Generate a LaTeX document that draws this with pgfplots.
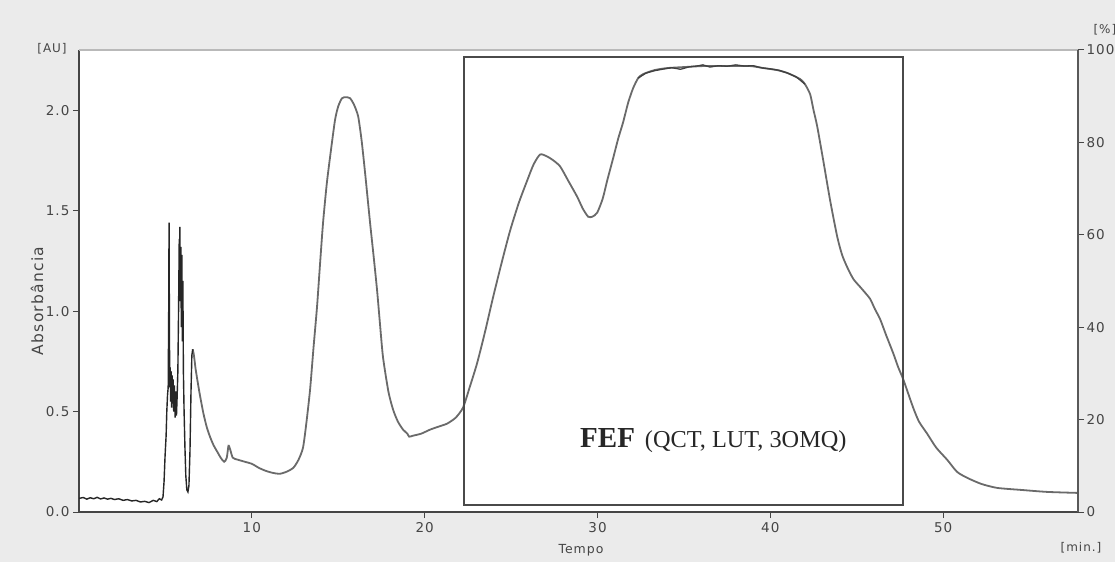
\documentclass[border=0pt]{standalone}
\usepackage{pgfplots}
\pgfplotsset{compat=1.18}
\usepackage{fontspec}
\setmainfont[LetterSpace=8]{DejaVu Sans}
\newfontfamily\timesf{Liberation Serif}
\definecolor{bgg}{HTML}{EBEBEB}
\definecolor{axc}{HTML}{454545}
\definecolor{curvec}{HTML}{6A6A6A}
\definecolor{boxc}{HTML}{4A4A4A}

\pgfplotstableread{
x y
0.00 0.068
0.25 0.072
0.45 0.064
0.65 0.071
0.85 0.066
1.05 0.073
1.25 0.065
1.45 0.070
1.65 0.064
1.85 0.068
2.05 0.062
2.30 0.066
2.55 0.058
2.80 0.062
3.05 0.055
3.30 0.058
3.55 0.050
3.80 0.053
4.05 0.047
4.30 0.058
4.50 0.052
4.65 0.066
4.78 0.060
4.86 0.075
4.92 0.15
4.98 0.28
5.04 0.38
5.08 0.50
5.12 0.58
5.16 0.62
5.19 1.00
5.21 1.44
5.23 0.95
5.25 0.62
5.28 0.72
5.30 0.55
5.33 0.70
5.36 0.52
5.39 0.68
5.42 0.54
5.45 0.66
5.48 0.50
5.52 0.63
5.56 0.47
5.60 0.60
5.64 0.48
5.68 0.58
5.72 0.70
5.76 1.00
5.80 1.36
5.82 1.15
5.84 1.42
5.86 1.05
5.89 1.32
5.92 0.92
5.95 1.28
5.98 0.85
6.01 1.15
6.04 0.70
6.08 0.50
6.13 0.32
6.18 0.18
6.24 0.11
6.30 0.10
6.36 0.13
6.42 0.30
6.48 0.60
6.53 0.78
6.58 0.81
}\noisetab

\pgfplotstableread{
x y
6.58 0.81
6.65 0.78
6.75 0.71
6.90 0.63
7.00 0.58
7.20 0.49
7.40 0.42
7.60 0.37
7.80 0.33
8.00 0.30
8.20 0.27
8.40 0.25
8.55 0.27
8.65 0.33
8.75 0.31
8.90 0.27
9.20 0.26
9.60 0.25
10.0 0.24
10.4 0.22
10.8 0.205
11.2 0.195
11.6 0.19
12.0 0.20
12.4 0.22
12.7 0.26
12.96 0.32
13.15 0.44
13.37 0.61
13.57 0.82
13.77 1.02
13.95 1.24
14.12 1.44
14.33 1.63
14.53 1.77
14.81 1.95
15.00 2.02
15.22 2.06
15.45 2.065
15.68 2.06
15.90 2.03
16.15 1.97
16.35 1.85
16.55 1.69
16.84 1.44
17.05 1.27
17.25 1.10
17.42 0.93
17.59 0.77
17.90 0.60
18.17 0.51
18.45 0.45
18.75 0.41
19.00 0.39
19.10 0.375
19.33 0.38
19.80 0.39
20.31 0.41
20.80 0.425
21.30 0.44
21.80 0.47
22.22 0.52
22.60 0.62
23.03 0.74
23.50 0.90
23.96 1.07
24.45 1.24
24.94 1.40
25.45 1.54
25.93 1.65
26.30 1.73
26.68 1.78
27.08 1.77
27.45 1.75
27.84 1.72
28.30 1.65
28.82 1.57
29.15 1.51
29.46 1.47
29.70 1.47
29.98 1.49
30.30 1.56
30.56 1.65
30.90 1.76
31.20 1.86
31.48 1.94
31.78 2.04
32.06 2.11
32.35 2.16
32.64 2.18
33.30 2.20
34.03 2.21
35.00 2.215
36.11 2.22
37.50 2.22
38.83 2.22
39.60 2.21
40.39 2.20
41.00 2.185
41.73 2.155
42.00 2.13
42.30 2.08
42.50 2.00
42.71 1.92
43.06 1.75
43.46 1.55
43.87 1.37
44.15 1.28
44.44 1.22
44.80 1.16
45.20 1.12
45.50 1.09
45.78 1.06
46.05 1.01
46.35 0.96
46.70 0.88
47.11 0.79
47.40 0.72
47.69 0.66
48.26 0.52
48.60 0.45
49.07 0.39
49.60 0.32
50.23 0.26
50.80 0.20
51.39 0.17
52.20 0.14
53.12 0.12
54.50 0.11
56.02 0.10
57.80 0.095
}\maintab

\pgfplotstableread{
x y
32.35 2.16
32.80 2.185
33.30 2.197
33.80 2.205
34.30 2.212
34.80 2.204
35.30 2.216
35.80 2.221
36.10 2.226
36.50 2.215
37.00 2.222
37.50 2.219
38.00 2.226
38.50 2.220
39.00 2.222
39.50 2.211
40.00 2.206
40.50 2.199
41.00 2.185
41.50 2.166
42.00 2.13
}\plateautab

\begin{document}
\begin{tikzpicture}[x=1pt,y=1pt]
\useasboundingbox (0,0) rectangle (1115,562);
\fill[bgg] (0,0) rectangle (1115,562);
\begin{axis}[
  at={(79pt,50pt)}, anchor=south west,
  scale only axis, width=999pt, height=462pt,
  xmin=0, xmax=57.8, ymin=0, ymax=2.3,
  axis x line*=bottom, axis y line*=left,
  axis line style={axc, line width=1.6pt},
  axis background/.style={fill=white},
  xtick={10,20,30,40,50},
  ytick={0,0.5,1,1.5,2},
  tick align=outside,
  major tick length=6pt,
  tick style={axc, line width=1pt},
  /pgf/number format/assume math mode=true,
  yticklabel style={/pgf/number format/.cd, fixed, fixed zerofill, precision=1},
  ticklabel style={font=\fontsize{13.5}{13.5}\selectfont, text=axc},
  xticklabel style={yshift=-1pt},
  clip=true,
]
\addplot[curvec, line width=1.8pt, smooth, tension=0.4] table[x=x,y=y] {\maintab};
\addplot[black!85, line width=1.4pt] table[x=x,y=y] {\noisetab};
\addplot[black!75, line width=1.3pt] table[x=x,y=y] {\plateautab};
\draw[boxc, line width=1.6pt] (axis cs:22.28,0.035) rectangle (axis cs:47.69,2.264);
\end{axis}
\begin{axis}[
  at={(79pt,50pt)}, anchor=south west,
  scale only axis, width=999pt, height=462pt,
  xmin=0, xmax=57.8, ymin=0, ymax=100,
  axis y line*=right, axis x line*=top,
  xtick=\empty,
  ytick={0,20,40,60,80,100},
  tick align=outside,
  major tick length=6pt,
  tick style={axc, line width=1pt},
  x axis line style={color=gray!55, line width=1.6pt},
  y axis line style={color=gray!130, line width=1.8pt},
  /pgf/number format/assume math mode=true,
  ticklabel style={font=\fontsize{13.5}{13.5}\selectfont, text=axc},
  yticklabel style={anchor=west, xshift=-1pt},
]
\end{axis}
\node[rotate=90, font=\fontsize{15.5}{15.5}\selectfont, text=axc] at (37,261) {Absorbância};
\node[font=\fontsize{12.5}{12.5}\selectfont, text=axc] at (581,12) {Tempo};
\node[font=\fontsize{12}{12}\selectfont, text=axc] at (52,513) {[AU]};
\node[font=\fontsize{12}{12}\selectfont, text=axc, anchor=west] at (1090,532) {[\%]};
\node[font=\fontsize{12}{12}\selectfont, text=axc] at (1081,14) {[min.]};
\node[anchor=base west, text=black!85, inner sep=0pt] at (580,114) {{\timesf\fontsize{29}{29}\selectfont\bfseries FEF}\hspace{10pt}{\timesf\fontsize{24.3}{25}\selectfont (QCT, LUT, 3OMQ)}};
\end{tikzpicture}
\end{document}
